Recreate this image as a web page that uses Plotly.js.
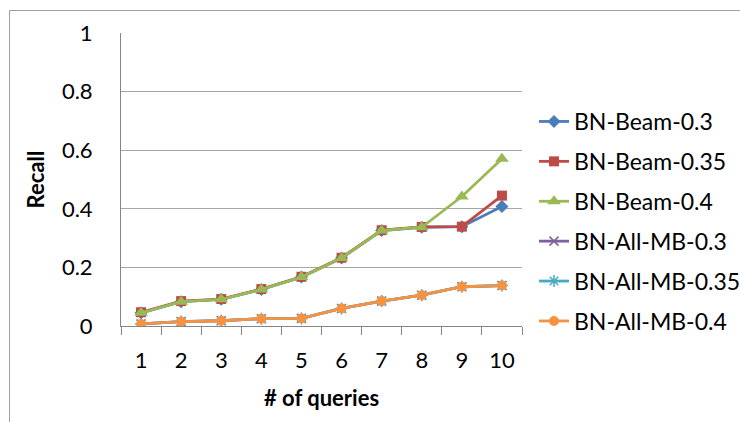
<!DOCTYPE html>
<html>
<head>
<meta charset="utf-8">
<script src="https://cdn.plot.ly/plotly-3.0.1.min.js"></script>
<style>
html,body{margin:0;padding:0;background:#fff;}
#chart{width:740px;height:422px;}
</style>
</head>
<body>
<div id="chart"></div>
<script>
// ---- data ----
const queries = ["1","2","3","4","5","6","7","8","9","10"];
const beam03  = [0.045,0.083,0.091,0.125,0.167,0.232,0.326,0.337,0.339,0.408];
const beam035 = [0.047,0.085,0.092,0.126,0.168,0.233,0.327,0.338,0.339,0.445];
const beam04  = [0.045,0.083,0.091,0.125,0.167,0.232,0.326,0.337,0.442,0.571];
const allmb03  = [0.007,0.015,0.018,0.025,0.026,0.060,0.085,0.105,0.134,0.138];
const allmb035 = [0.007,0.015,0.018,0.025,0.026,0.060,0.085,0.105,0.134,0.138];
const allmb04  = [0.007,0.015,0.018,0.025,0.026,0.060,0.085,0.105,0.134,0.138];
const seriesNames = ["BN-Beam-0.3","BN-Beam-0.35","BN-Beam-0.4","BN-All-MB-0.3","BN-All-MB-0.35","BN-All-MB-0.4"];
const yTicks = [0,0.2,0.4,0.6,0.8,1];
const yTickText = ["0","0.2","0.4","0.6","0.8","1"];
const xTitle = "# of queries";
const yTitle = "Recall";

// ---- styles ----
const FONT = "Lato, 'Open Sans', sans-serif";
const FS = 22;
const styles = [
  {color:"#4A7EBB", symbol:"diamond", size:10},
  {color:"#BE4B48", symbol:"square", size:10},
  {color:"#98B954", symbol:"triangle-up", size:12},
  {color:"#7D60A0", symbol:"x-thin-open", size:9},
  {color:"#46AAC5", symbol:"asterisk-open", size:10},
  {color:"#F69240", symbol:"circle", size:10}
];
const values = [beam03, beam035, beam04, allmb03, allmb035, allmb04];

const traces = values.map((v,i)=>({
  type:"scatter", mode:"lines+markers",
  x: queries, y: v, name: seriesNames[i],
  legendgroup: "g"+i,
  line:{color:styles[i].color, width:2.8},
  marker:{symbol:styles[i].symbol, size:styles[i].size, color:styles[i].color,
          line:{color:styles[i].color, width:(i===3||i===4)?1.5:0}}
}));

const W=740,H=422, L=121, R=218, T=33, B=96;
const pw = W-L-R, ph = H-T-B;
const px2x = p => (p-L)/pw;
const py2y = p => (H-B-p)/ph;

const layout = {
  width:W, height:H,
  margin:{l:L, r:R, t:T, b:B, pad:0, autoexpand:false},
  paper_bgcolor:"#fff", plot_bgcolor:"#fff",
  font:{family:FONT, size:FS, color:"#000"},
  showlegend:true,
  legend:{x:px2x(534), y:py2y(100), xanchor:"left", yanchor:"top",
          font:{family:FONT, size:23, color:"#000"},
          tracegroupgap:7, bgcolor:"rgba(0,0,0,0)"},
  xaxis:{type:"category", tickson:"boundaries", ticks:"outside", ticklen:8, tickcolor:"#868686",
         showline:true, linecolor:"#868686", linewidth:1, showgrid:false, zeroline:false,
         tickfont:{family:FONT, size:FS}, ticklabelstandoff:15,
         title:{text:"<b>"+xTitle+"</b>", font:{family:FONT, size:FS}, standoff:18},
         range:[-0.5,9.5], fixedrange:true},
  // main y axis: labels pushed out by a long transparent tick
  yaxis:{range:[0,1], tickvals:yTicks, ticktext:yTickText, ticks:"outside", ticklen:23,
         tickcolor:"rgba(0,0,0,0)", showline:true, linecolor:"#868686", linewidth:1,
         showgrid:true, gridcolor:"#A6A6A6", gridwidth:1, zeroline:false,
         tickfont:{family:FONT, size:FS}},
  // overlay y axis: only the short visible tick marks
  yaxis2:{overlaying:"y", matches:"y", anchor:"x", side:"left", tickvals:yTicks,
          ticks:"outside", ticklen:8, tickcolor:"#868686", showticklabels:false,
          showgrid:false, showline:false, zeroline:false},
  annotations:[
    {text:"<b>"+yTitle+"</b>", xref:"paper", yref:"paper", x:px2x(35), y:0.5,
     xanchor:"center", yanchor:"middle", textangle:-90, showarrow:false,
     font:{family:FONT, size:FS, color:"#000"}}
  ],
  shapes:[
    {type:"line", xref:"paper", yref:"paper", x0:px2x(9.5), x1:px2x(745), y0:py2y(10.5), y1:py2y(10.5), line:{color:"#A0A0A0", width:1}},
    {type:"line", xref:"paper", yref:"paper", x0:px2x(9.5), x1:px2x(9.5), y0:py2y(10.5), y1:py2y(430), line:{color:"#A0A0A0", width:1}}
  ]
};

Plotly.newPlot("chart", traces, layout, {staticPlot:true, displayModeBar:false});
</script>
</body>
</html>
